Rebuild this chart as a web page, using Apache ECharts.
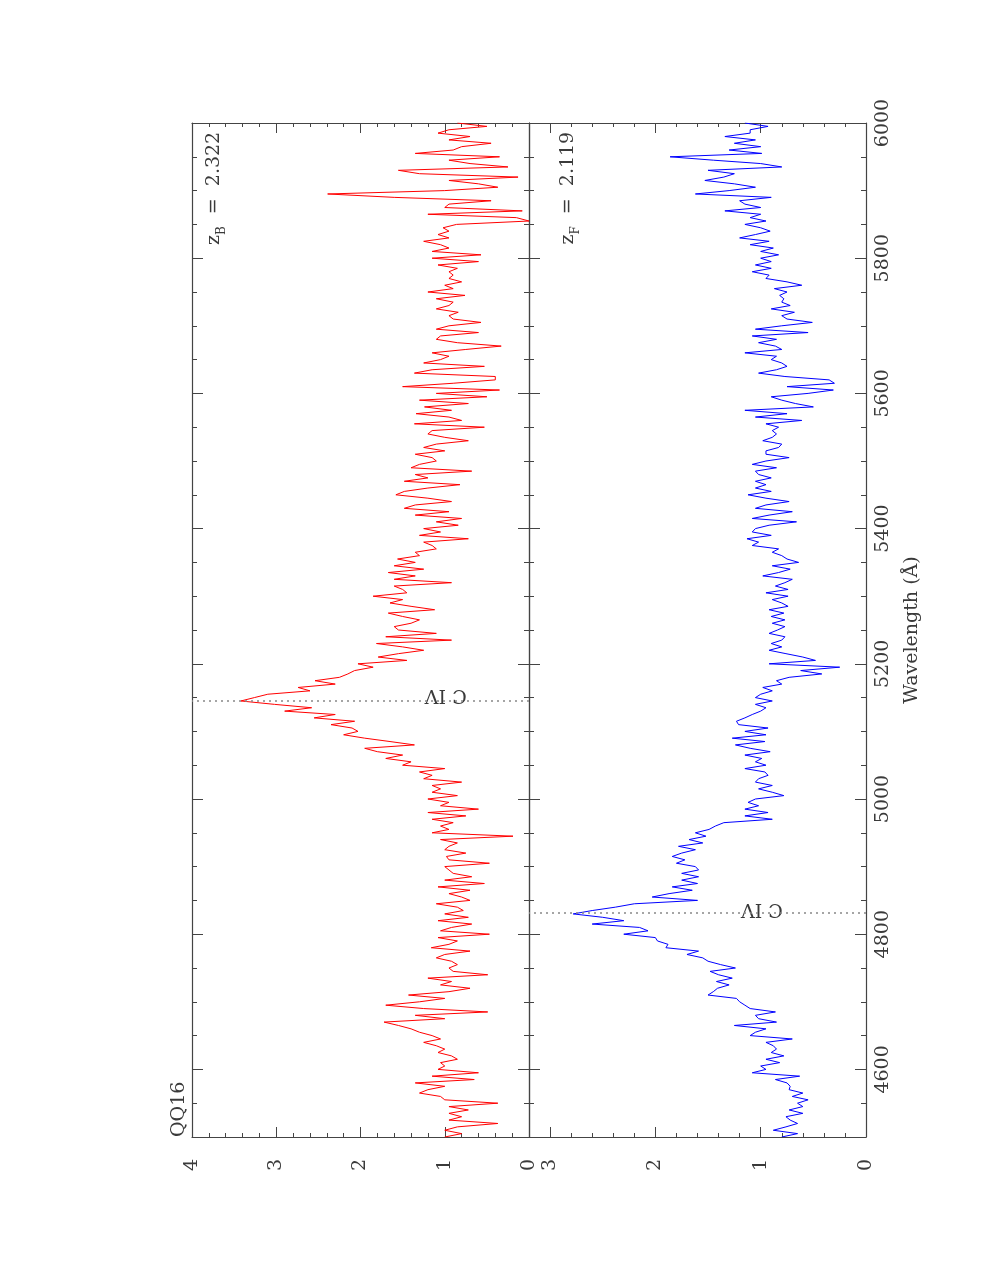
<!DOCTYPE html>
<html>
<head>
<meta charset="utf-8">
<script src="https://cdn.jsdelivr.net/npm/echarts@6/dist/echarts.min.js"></script>
<style>
html, body { margin: 0; padding: 0; background: #fff; }
#main { width: 981px; height: 1269px; }
</style>
</head>
<body>
<div id="main"></div>
<script>
// spectra sampled every 5 A, listed from 6000 A down to 4500 A
var waveMax = 6000, waveMin = 4500, waveStep = 5;

// background quasar (red, top panel)
var fluxB = [
  0.85, 0.5, 0.95, 1.08, 0.7, 0.95, 0.45, 0.8, 0.9, 1.35,
  0.35, 0.95, 0.7, 0.25, 1.55, 1.3, 0.13, 0.95, 0.6, 0.37,
  1.0, 2.39, 1.6, 0.45, 0.95, 1.0, 0.08, 1.2, 0.15, 0.0,
  0.86, 1.02, 0.95, 1.08, 0.95, 1.25, 1.05, 0.95, 1.15, 0.57,
  1.15, 0.6, 1.08, 0.85, 0.95, 0.9, 0.95, 0.8, 1.0, 0.9,
  1.2, 0.76, 1.1, 0.9, 0.95, 1.1, 0.84, 0.95, 0.9, 0.57,
  0.95, 1.1, 0.6, 1.05, 1.1, 0.85, 0.33, 0.75, 1.15, 0.95,
  1.05, 1.25, 0.53, 1.15, 1.36, 0.4,
  // 5620 - 5230
  0.4, 0.9, 1.5, 0.35, 1.1, 0.5, 1.3, 0.72, 1.24, 0.92,
  1.34, 0.95, 0.8, 1.36, 0.53, 1.15, 1.2, 1.0, 0.72, 1.1,
  1.25, 1.0, 1.35, 1.15, 1.1, 1.3, 1.4, 0.68, 1.35, 1.2,
  1.48, 0.82, 1.2, 1.48, 1.58, 1.2, 0.92, 1.35, 1.48, 0.95,
  1.35, 0.8, 1.1, 0.84, 1.25, 1.05, 1.3, 0.72, 1.25, 1.15,
  1.1, 1.35, 1.3, 1.56, 1.35, 1.6, 1.25, 1.67, 1.35, 1.6,
  0.92, 1.6, 1.5, 1.45, 1.85, 1.5, 1.65, 1.4, 1.12, 1.67,
  1.5, 1.3, 1.4, 1.6, 1.55, 1.1, 1.7, 0.92, 1.81,
  // 5225 - 4855
  1.5, 1.25, 1.55, 1.79, 1.45, 2.03, 1.85, 2.07, 2.15, 2.25,
  2.54, 2.3, 2.74, 2.6, 3.1, 3.26, 3.42, 3.02, 2.58, 2.9,
  2.3, 2.55, 2.07, 2.35, 2.1, 2.03, 2.2, 1.95, 1.65, 1.36,
  1.95, 1.8, 1.5, 1.7, 1.4, 1.5, 1.0, 1.3, 1.15, 1.25,
  0.8, 1.15, 1.05, 1.15, 0.85, 1.2, 0.95, 1.05, 0.6, 1.2,
  0.75, 1.15, 0.9, 1.05, 0.95, 1.15, 0.19, 1.05, 0.85, 0.95,
  1.0, 0.75, 0.98, 0.95, 0.47, 1.0, 0.95, 0.9, 0.68, 1.0,
  0.53, 1.08, 0.7, 0.95, 0.8,
  // 4850 - 4500
  0.7, 1.1, 0.85, 0.78, 1.0, 0.72, 1.08, 0.68, 0.92, 1.05,
  0.47, 1.08, 0.85, 0.95, 1.16, 0.7, 1.0, 1.1, 0.92, 0.85,
  0.95, 0.9, 0.49, 1.2, 0.92, 1.05, 0.7, 0.95, 1.43, 1.0,
  1.3, 1.7, 1.25, 0.49, 1.35, 1.0, 1.72, 1.55, 1.4, 1.3,
  1.15, 1.05, 1.25, 1.1, 1.0, 1.08, 0.92, 0.85, 1.05, 1.0,
  1.08, 0.6, 1.15, 0.65, 1.35, 1.0, 1.2, 1.3, 1.05, 1.0,
  0.37, 0.95, 0.72, 0.95, 0.8, 0.95, 0.37, 0.85, 1.0, 0.8,
  1.0
];

// foreground quasar (blue, bottom panel)
var fluxF = [
  1.15, 0.93, 1.1, 1.1, 1.34, 1.05, 1.25, 1.0, 1.3, 0.99,
  1.86, 1.45, 1.0, 0.8, 1.5, 1.25, 1.35, 1.53, 1.25, 1.05,
  1.3, 1.62, 0.9, 1.2, 1.15, 1.0, 1.34, 1.0, 1.1, 0.95,
  1.15, 1.0, 0.91, 1.05, 1.2, 0.92, 1.1, 0.88, 1.0, 0.83,
  1.0, 0.9, 1.05, 0.9, 1.08, 0.92, 0.95, 0.75, 0.61, 0.87,
  0.75, 0.82, 0.78, 0.8, 0.72, 0.9, 0.68, 0.8, 0.75, 0.51,
  0.8, 1.05, 0.55, 1.08, 0.85, 1.02, 0.86, 0.8, 1.15, 0.85,
  0.9, 0.8, 0.75, 0.85, 1.02, 0.77,
  // 5620 - 5235
  0.35, 0.3, 0.75, 0.31, 0.55, 0.9, 0.8, 0.67, 0.5, 1.15,
  0.75, 1.05, 0.61, 0.95, 0.83, 0.89, 0.85, 0.89, 0.98, 0.8,
  0.83, 0.95, 0.95, 0.73, 0.95, 1.08, 0.85, 1.05, 1.02, 0.9,
  1.05, 0.95, 1.05, 0.9, 1.12, 0.95, 0.73, 0.95, 1.05, 0.7,
  0.92, 1.08, 0.66, 0.92, 1.05, 1.08, 0.9, 1.13, 1.02, 1.08,
  0.83, 0.89, 0.8, 0.75, 0.64, 0.89, 0.72, 0.83, 0.98, 0.7,
  0.77, 0.86, 0.74, 0.95, 0.74, 0.89, 0.8, 0.74, 0.92, 0.78,
  0.9, 0.77, 0.89, 0.77, 0.84, 0.92, 0.77, 0.8,
  // 5230 - 4855
  0.9, 0.8, 0.92, 0.76, 0.6, 0.48, 0.92, 0.25, 0.62, 0.42,
  0.73, 0.85, 0.8, 0.98, 0.89, 1.0, 1.05, 0.89, 1.05, 0.95,
  1.0, 1.08, 1.15, 1.23, 1.21, 0.93, 1.15, 0.95, 1.27, 0.96,
  1.24, 1.1, 0.91, 1.15, 0.99, 1.05, 0.95, 1.15, 0.96, 0.93,
  1.02, 1.05, 0.89, 1.02, 0.89, 0.78, 1.05, 1.12, 1.02, 1.15,
  0.93, 1.15, 0.89, 1.35, 1.43, 1.49, 1.62, 1.52, 1.68, 1.55,
  1.78, 1.62, 1.75, 1.84, 1.72, 1.8, 1.62, 1.59, 1.75, 1.59,
  1.75, 1.6, 1.84, 1.65, 1.87, 2.03,
  // 4850 - 4500
  1.6, 2.2, 2.38, 2.6, 2.78, 2.5, 2.3, 2.6, 2.15, 2.07,
  2.3, 2.0, 1.98, 1.88, 1.9, 1.59, 1.7, 1.55, 1.5, 1.38,
  1.24, 1.48, 1.4, 1.27, 1.42, 1.3, 1.41, 1.45, 1.5, 1.23,
  1.2, 1.15, 1.1, 0.86, 1.05, 1.02, 0.85, 1.25, 0.95, 1.05,
  1.1, 0.7, 0.95, 0.88, 0.85, 0.9, 0.78, 0.95, 0.82, 1.0,
  0.95, 1.08, 0.63, 0.86, 0.75, 0.72, 0.73, 0.6, 0.7, 0.55,
  0.65, 0.6, 0.73, 0.6, 0.76, 0.72, 0.65, 0.76, 0.88, 0.65,
  0.8
];

var zB = 2.322, zF = 2.119;
var civRest = 1549.06;
var waveTicks = [4600, 4800, 5000, 5200, 5400, 5600, 5800, 6000];
var fluxTicksB = [0, 1, 2, 3, 4];
var fluxTicksF = [0, 1, 2, 3];

var frameColor = '#444';
var textColor = '#3a3a3a';
var font = 'DejaVu Serif';

function pts(arr) {
  return arr.map(function (f, i) { return [f, waveMax - i * waveStep]; });
}
function plain(v) { return String(v); }

var xAxes = [], yAxes = [];

// flux axes: major (with labels) and minor ticks, on both long edges
function fluxAxes(grid, max, ticks) {
  ['bottom', 'top'].forEach(function (pos) {
    xAxes.push({
      type: 'value', gridIndex: grid, position: pos, min: 0, max: max, inverse: true,
      axisLine: { show: true, onZero: false, lineStyle: { color: frameColor, width: 1.2 } },
      axisTick: { show: true, inside: true, length: 10, customValues: ticks, lineStyle: { color: frameColor } },
      axisLabel: { show: pos === 'bottom', customValues: ticks, rotate: 90, margin: 22, formatter: plain,
        fontFamily: font, fontSize: 19, color: textColor },
      splitLine: { show: false }
    });
    xAxes.push({
      type: 'value', gridIndex: grid, position: pos, min: 0, max: max, interval: 0.2, inverse: true,
      axisLine: { show: false, onZero: false },
      axisTick: { show: true, inside: true, length: 4, lineStyle: { color: frameColor } },
      axisLabel: { show: false },
      splitLine: { show: false }
    });
  });
}

// wavelength axes
function waveAxes(grid, withLabels) {
  ['left', 'right'].forEach(function (pos) {
    var lab = withLabels && pos === 'right';
    yAxes.push({
      type: 'value', gridIndex: grid, position: pos, min: waveMin, max: waveMax,
      axisLine: { show: true, onZero: false, lineStyle: { color: frameColor, width: 1.2 } },
      axisTick: { show: true, inside: true, length: 11, customValues: waveTicks, lineStyle: { color: frameColor } },
      axisLabel: { show: lab, customValues: waveTicks, rotate: 90, margin: 8, formatter: plain,
        fontFamily: font, fontSize: 19, color: textColor },
      name: lab ? 'Wavelength (Å)' : '',
      nameLocation: 'middle', nameRotate: 90, nameGap: 37,
      nameTextStyle: { fontFamily: font, fontSize: 19, color: textColor },
      splitLine: { show: false }
    });
    yAxes.push({
      type: 'value', gridIndex: grid, position: pos, min: waveMin, max: waveMax, interval: 50,
      axisLine: { show: false, onZero: false },
      axisTick: { show: true, inside: true, length: 5, lineStyle: { color: frameColor } },
      axisLabel: { show: false },
      splitLine: { show: false }
    });
  });
}

fluxAxes(0, 4, fluxTicksB);
fluxAxes(1, 3.2, fluxTicksF);
waveAxes(0, false);
waveAxes(1, true);

function civLine(z) {
  return {
    silent: true, symbol: 'none', animation: false,
    label: { show: false },
    lineStyle: { color: '#888', type: [2, 4], width: 1.5 },
    data: [{ yAxis: civRest * (1 + z) }]
  };
}

var chart = echarts.init(document.getElementById('main'));
chart.setOption({
  backgroundColor: '#fff',
  animation: false,
  grid: [
    { left: 192, top: 123, width: 337, height: 1014 },
    { left: 529, top: 123, width: 337, height: 1014 }
  ],
  xAxis: xAxes,
  yAxis: yAxes,
  series: [
    {
      type: 'line', xAxisIndex: 0, yAxisIndex: 0, data: pts(fluxB),
      showSymbol: false, lineStyle: { color: '#ff0000', width: 1 },
      markLine: civLine(zB)
    },
    {
      type: 'line', xAxisIndex: 4, yAxisIndex: 4, data: pts(fluxF),
      showSymbol: false, lineStyle: { color: '#0000ff', width: 1 },
      markLine: civLine(zF)
    }
  ]
});

// annotations, placed through the axes
function px(si, f, w) { return chart.convertToPixel({ seriesIndex: si }, [f, w]); }
var baseStyle = { fontFamily: font, fontSize: 19, fill: textColor };
var corner = px(0, 4, waveMin);
var civB = px(0, 0.74, civRest * (1 + zB));
var civF = px(1, 0.79, civRest * (1 + zF));
var zbPos = px(0, 3.74, 5987);
var zfPos = px(1, 2.83, 5987);

function zText(sub, val) {
  return {
    text: '{m|z}{s|' + sub + '}{m|  =  ' + val + '}',
    rich: {
      m: { fontFamily: font, fontSize: 19, fill: textColor, lineHeight: 28, verticalAlign: 'middle' },
      s: { fontFamily: font, fontSize: 12, fill: textColor, lineHeight: 28, verticalAlign: 'bottom' }
    },
    align: 'right', verticalAlign: 'middle'
  };
}

chart.setOption({
  graphic: [
    { type: 'text', x: corner[0] - 3, y: corner[1], rotation: Math.PI / 2,
      style: Object.assign({ text: 'QQ16', align: 'left', verticalAlign: 'bottom' }, baseStyle) },
    { type: 'text', x: zbPos[0], y: zbPos[1], rotation: Math.PI / 2, style: zText('B', '2.322') },
    { type: 'text', x: zfPos[0], y: zfPos[1], rotation: Math.PI / 2, style: zText('F', '2.119') },
    { type: 'text', x: civB[0], y: civB[1] - 5, rotation: Math.PI,
      style: Object.assign({ text: 'C IV', align: 'left', verticalAlign: 'middle' }, baseStyle) },
    { type: 'text', x: civF[0], y: civF[1] - 4, rotation: Math.PI,
      style: Object.assign({ text: 'C IV', align: 'left', verticalAlign: 'middle' }, baseStyle) }
  ]
});
</script>
</body>
</html>
